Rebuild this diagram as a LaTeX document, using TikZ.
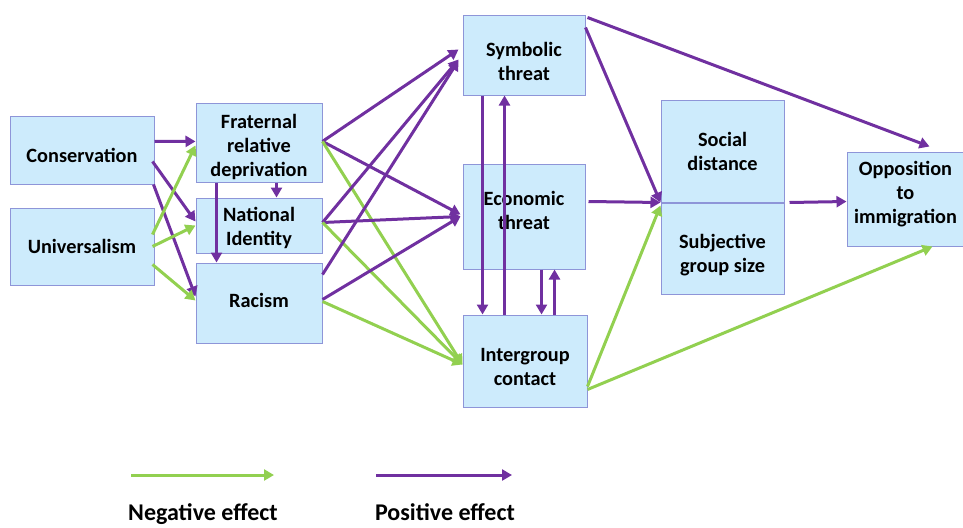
\documentclass[tikz,border=0pt]{standalone}
\usepackage{fontspec}
\setmainfont{Carlito}
\usetikzlibrary{arrows.meta,positioning,calc}
\definecolor{boxfill}{HTML}{CDEBFC}
\definecolor{boxline}{HTML}{8E95D8}
\definecolor{posc}{HTML}{7030A0}
\definecolor{negc}{HTML}{92D050}

\begin{document}
\begin{tikzpicture}[x=1pt, y=-1pt,
  box/.style={draw=boxline, line width=1pt, fill=boxfill, align=center, font=\fontsize{20.3}{24}\selectfont\bfseries, inner sep=2pt},
  posarr/.style={-{Triangle[length=10pt,width=11pt]}, draw=posc, line width=3pt},
  negarr/.style={-{Triangle[length=10pt,width=11pt]}, draw=negc, line width=3pt},
  leg/.style={font=\fontsize{24}{28}\selectfont\bfseries, anchor=base},
]
\useasboundingbox (0,0) rectangle (963,527);
\node[box, minimum width=144pt, minimum height=68pt] (cons) at (82,150) {\rule{0pt}{25pt}Conservation};
\node[box, minimum width=144pt, minimum height=77pt] (univ) at (82,246.5) {Universalism};
\node[box, minimum width=126pt, minimum height=78pt] (frat) at (259,143) {\rule{0pt}{23pt}Fraternal\\relative\\deprivation};
\node[box, minimum width=126pt, minimum height=55pt] (nat) at (259,225.5) {\rule{0pt}{20pt}National\\Identity};
\node[box, minimum width=126pt, minimum height=80pt] (rac) at (259,303) {Racism\rule[-6pt]{0pt}{0pt}};
\node[box, minimum width=122pt, minimum height=79pt] (sym) at (524,55.5) {\rule{0pt}{27pt}Symbolic\\threat};
\node[box, minimum width=122pt, minimum height=105pt] (eco) at (524,216.5) {Economic\\threat\rule[-13pt]{0pt}{0pt}};
\node[box, minimum width=124pt, minimum height=92pt] (inter) at (525,361) {\rule{0pt}{26pt}Intergroup\\contact};
\node[box, minimum width=123pt, minimum height=102pt] (soc) at (722.5,151) {Social\\distance};
\node[box, minimum width=123pt, minimum height=91pt, below=0pt of soc] (subj) {\rule{0pt}{27pt}Subjective\\group size};
\node[box, minimum width=117pt, minimum height=94pt] (opp) at (905.5,199) {Opposition\\to\\immigration\rule[-14pt]{0pt}{0pt}};
\draw[posarr] ($(cons.north east)+(0,26)$) -- ($(frat.north west)+(0,38)$);
\draw[posarr] ($(cons.north east)+(-2,46)$) -- ($(nat.north west)+(0,24)$);
\draw[posarr] ($(cons.south east)+(-1,0)$) -- ($(rac.north west)+(0,34)$);
\draw[negarr] ($(univ.north east)+(-2,27)$) -- ($(frat.north west)+(0,42)$);
\draw[negarr] ($(univ.north east)+(-2,39)$) -- ($(nat.north west)+(0,28)$);
\draw[negarr] ($(univ.north east)+(-2,57)$) -- ($(rac.north west)+(0,38)$);
\draw[posarr] ($(frat.south west)+(81,0)$) -- ($(nat.north west)+(81,0)$);
\draw[posarr] ($(frat.south west)+(21,0)$) -- ($(rac.north west)+(21,0)$);
\draw[posarr] ($(frat.north east)+(0,38)$) -- ($(sym.north west)+(-4,34)$);
\draw[posarr] ($(frat.north east)+(0,38)$) -- ($(eco.north west)+(-2,51)$);
\draw[negarr] ($(frat.north east)+(0,38)$) -- ($(inter.north west)+(0,50)$);
\draw[posarr] ($(nat.north east)+(0,25)$) -- ($(sym.north west)+(-4,44)$);
\draw[posarr] ($(nat.north east)+(0,25)$) -- ($(eco.north west)+(-2,53)$);
\draw[negarr] ($(nat.north east)+(0,25)$) -- ($(inter.north west)+(0,50)$);
\draw[posarr] ($(rac.north east)+(0,12)$) -- ($(sym.north west)+(-4,45)$);
\draw[posarr] ($(rac.north east)+(0,37)$) -- ($(eco.north west)+(-2,53)$);
\draw[negarr] ($(rac.north east)+(0,39)$) -- ($(inter.north west)+(0,50)$);
\draw[posarr] ($(sym.south west)+(20,0)$) -- ($(inter.north west)+(20,0)$);
\draw[posarr] ($(inter.north west)+(42,0)$) -- ($(sym.south west)+(42,0)$);
\draw[posarr] ($(eco.south west)+(79,0)$) -- ($(inter.north west)+(79,0)$);
\draw[posarr] ($(inter.north west)+(92,0)$) -- ($(eco.south west)+(92,0)$);
\draw[posarr] ($(sym.north east)+(2,2)$) -- ($(opp.north west)+(83,-5)$);
\draw[posarr] ($(sym.north east)+(0,12)$) -- (soc.south west);
\draw[posarr] ($(eco.north east)+(3,38)$) -- (soc.south west);
\draw[negarr] ($(inter.north east)+(0,72)$) -- ($(soc.south west)+(0,3)$);
\draw[negarr] ($(inter.north east)+(0,75)$) -- ($(opp.south west)+(86,0)$);
\draw[posarr] ($(soc.south east)+(5,0)$) -- ($(opp.north west)+(0,50)$);
\coordinate (negs) at (131,475);
\coordinate (nege) at (274,475);
\coordinate (poss) at (376,475);
\coordinate (pose) at (512,475);
\draw[negarr] (negs) -- (nege);
\draw[posarr] (poss) -- (pose);
\node[leg] (negtxt) at (203,520) {Negative effect};
\node[leg] (postxt) at (445,520) {Positive effect};
\end{tikzpicture}
\end{document}
